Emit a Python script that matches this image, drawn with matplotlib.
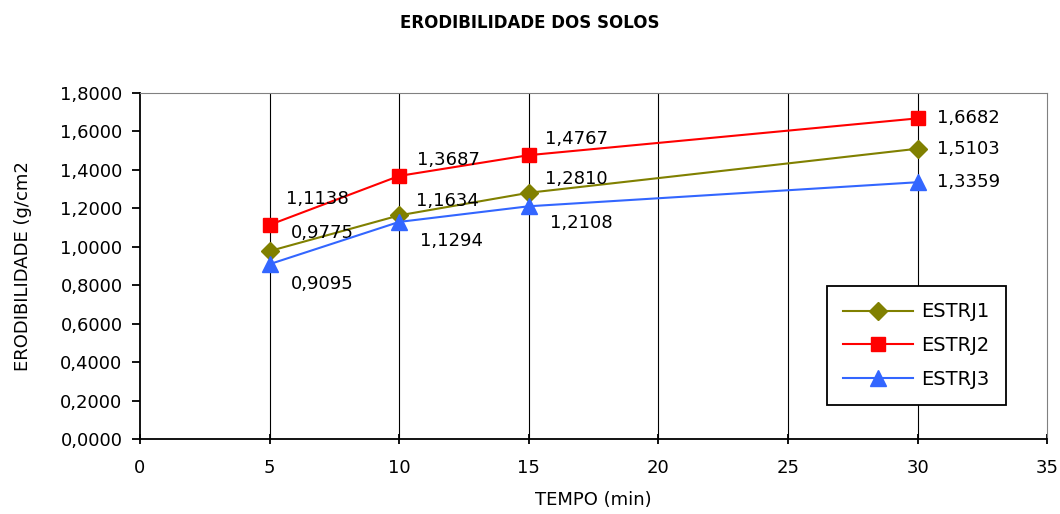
import matplotlib

matplotlib.use("Agg")
import matplotlib.pyplot as plt
from matplotlib.ticker import FuncFormatter

plt.rcParams["font.family"] = ["DejaVu Sans"]

tempo = [5, 10, 15, 30]
estrj1 = [0.9775, 1.1634, 1.2810, 1.5103]
estrj2 = [1.1138, 1.3687, 1.4767, 1.6682]
estrj3 = [0.9095, 1.1294, 1.2108, 1.3359]

# label offsets (pixels) per point
off1 = [(21, 18), (17, 14), (16, 14), (19, 0)]
off2 = [(16, 26), (18, 16), (16, 16), (19, 0)]
off3 = [(21, -20), (21, -19), (21, -17), (19, 0)]

fig = plt.figure(figsize=(10.6, 5.14), dpi=100)
ax = fig.add_axes([0.132, 0.146, 0.856, 0.673])

FS = 13
series = [
    ("ESTRJ1", estrj1, "#808000", "D", 9, off1),
    ("ESTRJ2", estrj2, "#FF0000", "s", 10, off2),
    ("ESTRJ3", estrj3, "#3366FF", "^", 11, off3),
]
for name, vals, color, marker, ms, offs in series:
    ax.plot(tempo, vals, color=color, lw=1.5, marker=marker, ms=ms, label=name, zorder=3)
    for x, y, (dx, dy) in zip(tempo, vals, offs):
        ax.annotate(f"{y:.4f}".replace(".", ","), (x, y), xytext=(dx, dy),
                    textcoords="offset pixels", fontsize=FS, va="center", ha="left")

ax.set_xlim(0, 35)
ax.set_ylim(0, 1.8)
ax.set_xticks(range(0, 36, 5))
ax.set_yticks([i * 0.2 for i in range(10)])
ax.yaxis.set_major_formatter(FuncFormatter(lambda v, p: f"{v:.4f}".replace(".", ",")))
for v in range(5, 35, 5):
    ax.axvline(v, color="black", lw=0.8, zorder=1)

ax.spines["top"].set_color("#808080")
ax.spines["right"].set_color("#808080")
ax.spines["left"].set_linewidth(1.3)
ax.spines["bottom"].set_linewidth(1.3)
ax.tick_params(axis="both", labelsize=FS, width=1.3)
ax.tick_params(axis="y", direction="out", length=5.5, pad=7)
ax.tick_params(axis="x", direction="inout", length=7, pad=11)

ax.set_xlabel("TEMPO (min)", fontsize=FS, labelpad=10)
ax.set_ylabel("ERODIBILIDADE (g/cm2", fontsize=FS, labelpad=20)
fig.suptitle("ERODIBILIDADE DOS SOLOS", fontsize=12, fontweight="bold", y=0.972)

leg = ax.legend(loc="lower left", bbox_to_anchor=(0.757, 0.098), borderaxespad=0,
                fontsize=14, fancybox=False, edgecolor="black", framealpha=1,
                handlelength=3.6, handletextpad=0.4, borderpad=0.85, labelspacing=0.75)
leg.get_frame().set_linewidth(1.3)

fig.savefig("out.png", dpi=100)
